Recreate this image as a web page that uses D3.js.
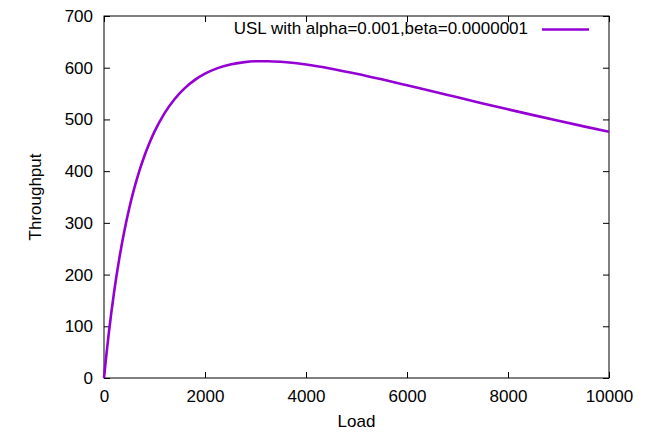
<!DOCTYPE html>
<html>
<head>
<meta charset="utf-8">
<script src="https://cdn.jsdelivr.net/npm/d3@7"></script>
<style>
  body { margin: 0; background: #fff; }
  text { font-family: "Liberation Sans", Arial, sans-serif; fill: #000; }
</style>
</head>
<body>
<div id="chart"></div>
<script>
// values
var load = [0, 50, 100, 200, 300, 400, 500, 600, 700, 800, 900, 1000, 1200, 1400, 1600, 1800,
  2000, 2250, 2500, 2750, 3000, 3250, 3500, 4000, 4500, 5000, 5500, 6000, 6500, 7000,
  7500, 8000, 8500, 9000, 9500, 10000];
var throughput = [0, 47.7, 90.9, 166.3, 229.4, 282.7, 328.1, 367.0, 400.5, 429.4, 454.6, 476.4,
  512.2, 539.5, 560.5, 576.4, 588.4, 599.2, 606.2, 610.4, 612.4, 612.6, 611.5, 606.2, 598.1,
  588.3, 577.5, 566.1, 554.5, 542.7, 531.0, 519.5, 508.3, 497.3, 486.6, 476.2];
var xTicks = [0, 2000, 4000, 6000, 8000, 10000];
var yTicks = [0, 100, 200, 300, 400, 500, 600, 700];
var seriesLabel = "USL with alpha=0.001,beta=0.0000001";

var W = 655, H = 432;
var margin = {top: 16, right: 46, bottom: 54, left: 104};
var width = W - margin.left - margin.right,
    height = H - margin.top - margin.bottom;

var svg = d3.select("#chart").append("svg")
    .attr("width", W)
    .attr("height", H);
var g = svg.append("g")
    .attr("transform", "translate(" + margin.left + "," + margin.top + ")");

var x = d3.scaleLinear().domain([0, 10000]).range([0, width]);
var y = d3.scaleLinear().domain([0, 700]).range([height, 0]);

var fontSize = "17px";

// bottom axis + mirrored top ticks
g.append("g")
    .attr("transform", "translate(0," + height + ")")
    .call(d3.axisBottom(x).tickValues(xTicks).tickSize(-6).tickPadding(12).tickFormat(d3.format("d")))
    .call(function(a) { a.select(".domain").remove(); a.selectAll("text").style("font-size", fontSize); });
g.append("g")
    .call(d3.axisTop(x).tickValues(xTicks).tickSize(-6).tickFormat(""))
    .call(function(a) { a.select(".domain").remove(); });

// left axis + mirrored right ticks
g.append("g")
    .call(d3.axisLeft(y).tickValues(yTicks).tickSize(-6).tickPadding(11))
    .call(function(a) { a.select(".domain").remove(); a.selectAll("text").style("font-size", fontSize); });
g.append("g")
    .attr("transform", "translate(" + width + ",0)")
    .call(d3.axisRight(y).tickValues(yTicks).tickSize(-6).tickFormat(""))
    .call(function(a) { a.select(".domain").remove(); });

g.selectAll(".tick line").attr("stroke", "#000");

// border
g.append("rect")
    .attr("width", width)
    .attr("height", height)
    .attr("fill", "none")
    .attr("stroke", "#000")
    .attr("stroke-width", 1);

// curve
var pts = load.map(function(d, i) { return [d, throughput[i]]; });
g.append("path")
    .datum(pts)
    .attr("fill", "none")
    .attr("stroke", "#9400d3")
    .attr("stroke-width", 2.6)
    .attr("stroke-linejoin", "round")
    .attr("d", d3.line()
      .curve(d3.curveMonotoneX)
      .x(function(d) { return x(d[0]); })
      .y(function(d) { return y(d[1]); }));

// legend
g.append("text")
    .attr("x", 424).attr("y", 13.5)
    .attr("text-anchor", "end")
    .attr("dominant-baseline", "middle")
    .style("font-size", fontSize)
    .text(seriesLabel);
g.append("line")
    .attr("x1", 438).attr("x2", 485)
    .attr("y1", 13.5).attr("y2", 13.5)
    .attr("stroke", "#9400d3")
    .attr("stroke-width", 2.6);

// axis titles
svg.append("text")
    .attr("x", margin.left + width / 2)
    .attr("y", 427)
    .attr("text-anchor", "middle")
    .style("font-size", fontSize)
    .text("Load");
svg.append("text")
    .attr("transform", "translate(41," + (margin.top + height / 2) + ") rotate(-90)")
    .attr("text-anchor", "middle")
    .style("font-size", fontSize)
    .text("Throughput");
</script>
</body>
</html>
